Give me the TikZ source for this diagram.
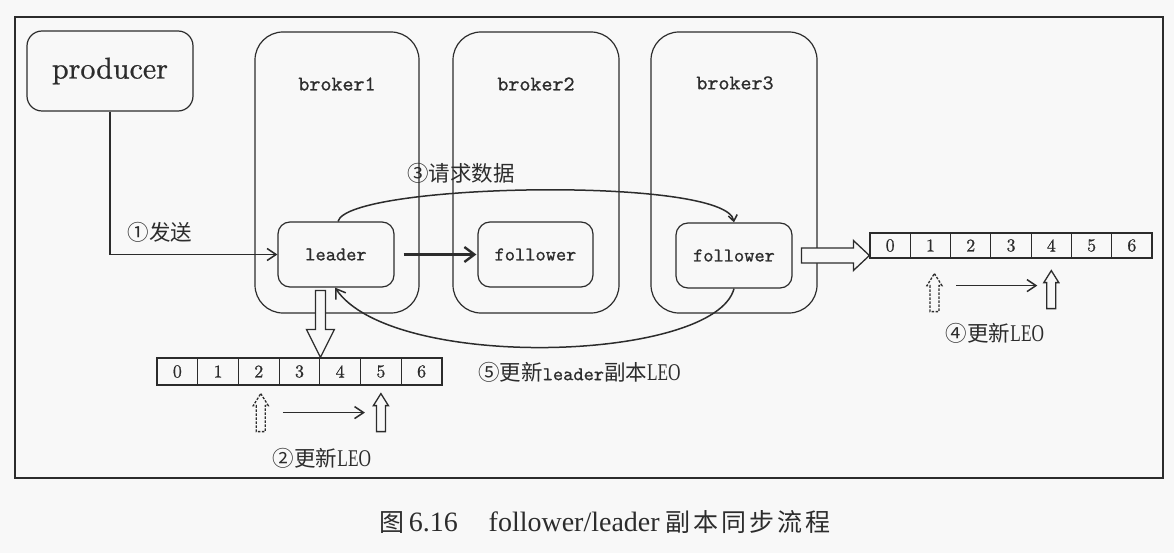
\documentclass[tikz,border=0pt]{standalone}
\usepackage{fontspec}
\usepackage{graphicx}
\newfontfamily\cjk{Noto Sans CJK SC}
\newfontfamily\timesf{Liberation Serif}
\newfontfamily\monof{lmmono10-regular.otf}[FakeBold=0.8]
\newfontfamily\romf{lmroman10-regular.otf}[FakeBold=0.8]
\usetikzlibrary{arrows.meta,calc}
\definecolor{ink}{HTML}{2C2C2C}
\definecolor{paper}{HTML}{F8F8F8}
\tikzset{
  frame/.style={draw=ink, line width=1.6pt},
  bigbox/.style={draw=ink, line width=1.2pt, rounded corners=28pt, inner sep=0pt},
  prodbox/.style={draw=ink, line width=1.2pt, rounded corners=15pt, inner sep=0pt,
    minimum width=166pt, minimum height=80pt, font=\romf\fontsize{30}{32}\selectfont},
  repbox/.style={draw=ink, line width=1.2pt, rounded corners=12pt, inner sep=0pt,
    minimum height=65pt, font=\monof\fontsize{19.5}{22}\selectfont},
  btitle/.style={text=ink, font=\monof\fontsize{21}{24}\selectfont},
  cell/.style={draw=ink, line width=1.2pt, inner sep=0pt, text=ink,
    font=\romf\fontsize{18}{20}\selectfont},
  conn/.style={draw=ink, line width=1.5pt},
  thinhead/.style={-{Straight Barb[length=9pt,width=12pt,line width=1.5pt]}},
  smallhead/.style={-{Straight Barb[length=6pt,width=9pt,line width=1.5pt]}},
  thickarr/.style={draw=ink, line width=2.6pt, -{Straight Barb[length=10pt,width=15pt,line width=2.4pt]}},
  lab/.style={text=ink, inner sep=0pt, font=\cjk\fontsize{21.5}{24}\selectfont},
  hollowstyle/.style={draw=ink, line width=1.3pt, fill=paper},
  hollowup/.pic={\draw[hollowstyle] (0,0) -- (7.5,12) -- (4.5,12) -- (4.5,38) -- (-4.5,38) -- (-4.5,12) -- (-7.5,12) -- cycle;},
  dashup/.pic={\draw[hollowstyle, dash pattern=on 2.5pt off 1.5pt] (0,0) -- (7.5,12) -- (4.5,12) -- (4.5,38) -- (-4.5,38) -- (-4.5,12) -- (-7.5,12) -- cycle;},
  hollowdown/.pic={\draw[hollowstyle] (0,0) -- (14,-28) -- (5,-28) -- (5,-67) -- (-5,-67) -- (-5,-28) -- (-14,-28) -- cycle;},
  hollowright/.pic={\draw[hollowstyle] (0,0) -- (-16,-15) -- (-16,-7.5) -- (-68,-7.5) -- (-68,7.5) -- (-16,7.5) -- (-16,15) -- cycle;}
}
\newcommand{\tleo}{\scalebox{0.72}[1]{\timesf\fontsize{24}{26}\selectfont LEO}}
\newcommand{\cs}{\hspace{0.12em}}
\begin{document}
\begin{tikzpicture}[x=1pt,y=-1pt]
\fill[paper] (0,0) rectangle (1174,553);
\path[use as bounding box] (0,0) rectangle (1174,553);
\draw[frame] (15,17) rectangle (1163,478);

% brokers
\node[bigbox, minimum width=164pt, minimum height=281pt] (broker1) at (337,172.5) {};
\node[bigbox, minimum width=166pt, minimum height=281pt] (broker2) at (536,172.5) {};
\node[bigbox, minimum width=166pt, minimum height=281pt] (broker3) at (734,172.5) {};
\node[btitle] (t1) at (337,84) {broker1};
\node[btitle] (t2) at (536,84) {broker2};
\node[btitle] (t3) at (735,83) {broker3};

\node[prodbox, text=ink] (producer) at (110,71) {producer};

\node[repbox, minimum width=116pt, text=ink] (leader) at (336,254.5) {leader};
\node[repbox, minimum width=115pt, text=ink] (follower2) at (535.5,254.5) {follower};
\node[repbox, minimum width=116pt, text=ink] (follower3) at (734,255.5) {follower};

% arrays
\foreach \i in {0,...,6}{
  \node[cell, minimum width=40.71pt, minimum height=27pt] (a\i) at ({157+40.71*(\i+0.5)},371.5) {\i};
  \node[cell, minimum width=40.29pt, minimum height=25pt] (b\i) at ({870+40.29*(\i+0.5)},245.5) {\i};
}

% connectors
\draw[conn, thinhead] (producer.south) -- (producer.south |- leader.west) -- (leader.west);
\node[lab] (l1) at (160,232) {①发送};
\draw[thickarr, shorten <=9pt, shorten >=1pt] (leader.east) -- (follower2.west);
\draw[conn, smallhead] ([xshift=2pt]leader.north) .. controls (348,183) and (726,176) .. (follower3.north);
\node[lab] (l3) at (461,173) {③请求数据};
\draw[conn, thinhead] (follower3.south) .. controls (715,362) and (392,372) .. ([xshift=-1pt]leader.south);
\node[lab, anchor=west] (l5) at (478,372) {⑤更新{\monof\fontsize{19.5}{22}\selectfont leader}副本\tleo};

% hollow arrows
\pic at (a3.north east) {hollowdown};
\pic at (follower3.east -| b0.west) {hollowright};

\coordinate (d2) at ($(a2.south)+(2,8)$);
\coordinate (s5) at ($(a5.south)+(0,8)$);
\pic at (d2) {dashup};
\pic at (s5) {hollowup};
\coordinate (r2s) at ($(d2)+(22,19)$);
\coordinate (r2e) at ($(s5)+(-16,19)$);
\draw[conn, thinhead] (r2s) -- (r2e);
\node[lab] (l2) at (322,458) {②更新\tleo};

\coordinate (d1) at ($(b1.south)+(4,15)$);
\coordinate (s4) at ($(b4.south)+(0,12)$);
\pic at (d1) {dashup};
\pic at (s4) {hollowup};
\coordinate (r4s) at ($(d1)+(22,12)$);
\coordinate (r4e) at ($(s4)+(-14,15)$);
\draw[conn, thinhead] (r4s) -- (r4e);
\node[lab] (l4) at (995,333) {④更新\tleo};

% caption
\node[text=ink, inner sep=0pt] (cap) at (605,522) {\cjk\fontsize{25}{28}\selectfont 图\,{\timesf\fontsize{28}{30}\selectfont 6.16\hspace{1.1em}follower/leader} 副\cs 本\cs 同\cs 步\cs 流\cs 程};
\end{tikzpicture}
\end{document}
